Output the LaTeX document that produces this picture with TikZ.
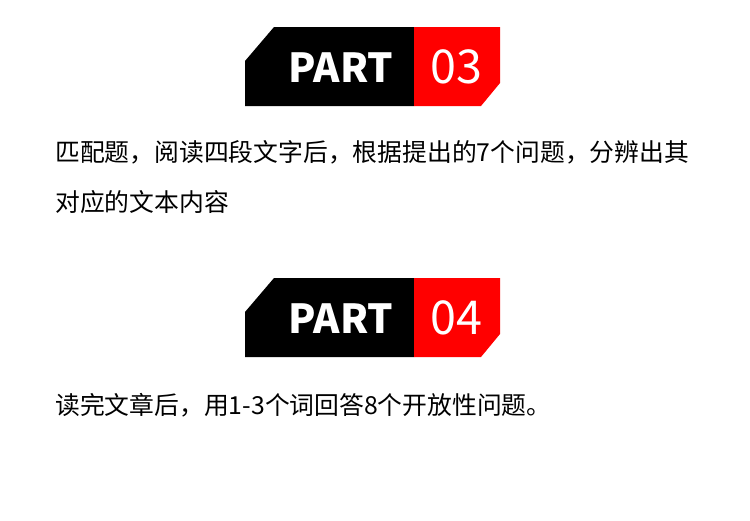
\documentclass[tikz,border=0pt]{standalone}
\usepackage{fontspec}
\setmainfont{Noto Sans CJK SC}
\newfontfamily\cjk{Noto Sans CJK SC}
\usetikzlibrary{positioning}
\definecolor{partred}{RGB}{255,0,0}
\tikzset{
  parttxt/.style={text=white,font=\cjk\bfseries\fontsize{30}{30}\selectfont,inner sep=0pt},
  numtxt/.style={text=white,font=\cjk\fontsize{35}{35}\selectfont,inner sep=0pt},
  bodytxt/.style={anchor=west,font=\cjk\fontsize{18.6}{18.6}\selectfont,inner sep=0pt}
}
\newcommand{\partbadge}[3]{%
\fill[black] (245,#1+34)--(274,#1)--(414,#1)--(414,#1+79)--(245,#1+79)--cycle;
\fill[partred] (414,#1)--(500,#1)--(500,#1+56)--(481,#1+79)--(414,#1+79)--cycle;
\node[parttxt] (#2) at (341,#1+41) {PART};
\node[numtxt] (#3) at (456,#1+40) {0#3};
}
\begin{document}
\begin{tikzpicture}[x=0.75pt,y=-0.75pt]
\useasboundingbox (0,0) rectangle (750,521);
\partbadge{27}{parta}{3}
\node[bodytxt] (texta) at (55,152) {匹配题，阅读四段文字后，根据提出的7个问题，分辨出其};
\node[bodytxt] (textb) at (55,202) {对应的文本内容};
\partbadge{278}{partb}{4}
\node[bodytxt] (textc) at (55,405) {读完文章后，用1-3个词回答8个开放性问题。};
\end{tikzpicture}
\end{document}
